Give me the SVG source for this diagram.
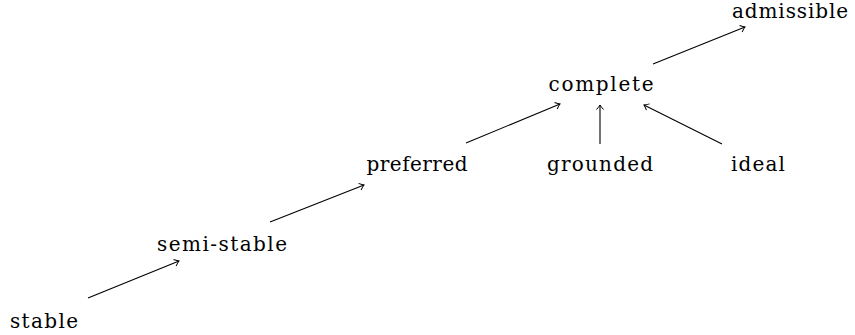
<svg xmlns="http://www.w3.org/2000/svg" width="855" height="335" viewBox="0 0 855 335">
<style>
text{font-family:"DejaVu Serif","Liberation Serif",serif;font-size:20px;fill:#000;text-anchor:middle}
.e{stroke:#000;stroke-width:1.1;fill:none}
</style>
<defs>
<marker id="to" markerUnits="userSpaceOnUse" markerWidth="12" markerHeight="12" viewBox="-8 -6 10 12" refX="0" refY="0" orient="auto">
<path d="M-4.5,-3.5 Q-1.5,-0.8 0,0 Q-1.5,0.8 -4.5,3.5" fill="none" stroke="#000" stroke-width="1"/>
</marker>
</defs>
<rect width="855" height="335" fill="#fff"/>
<g id="connectors">
<line class="e" x1="88" y1="298" x2="179" y2="261" marker-end="url(#to)"/>
<line class="e" x1="270" y1="222" x2="364" y2="185" marker-end="url(#to)"/>
<line class="e" x1="466" y1="143" x2="560" y2="104" marker-end="url(#to)"/>
<line class="e" x1="600" y1="144" x2="600" y2="105" marker-end="url(#to)"/>
<line class="e" x1="722" y1="144" x2="644" y2="105" marker-end="url(#to)"/>
<line class="e" x1="653" y1="64" x2="745" y2="27" marker-end="url(#to)"/>
</g>
<g id="stable"><text x="44" y="328" textLength="68" lengthAdjust="spacing">stable</text></g>
<g id="semi-stable"><text x="222" y="251" textLength="130" lengthAdjust="spacing">semi-stable</text></g>
<g id="preferred"><text x="417" y="171" textLength="101" lengthAdjust="spacing">preferred</text></g>
<g id="grounded"><text x="600" y="171" textLength="106" lengthAdjust="spacing">grounded</text></g>
<g id="ideal"><text x="758" y="171" textLength="54" lengthAdjust="spacing">ideal</text></g>
<g id="complete"><text x="601" y="91" textLength="105" lengthAdjust="spacing">complete</text></g>
<g id="admissible"><text x="790" y="18" textLength="116" lengthAdjust="spacing">admissible</text></g>
</svg>
